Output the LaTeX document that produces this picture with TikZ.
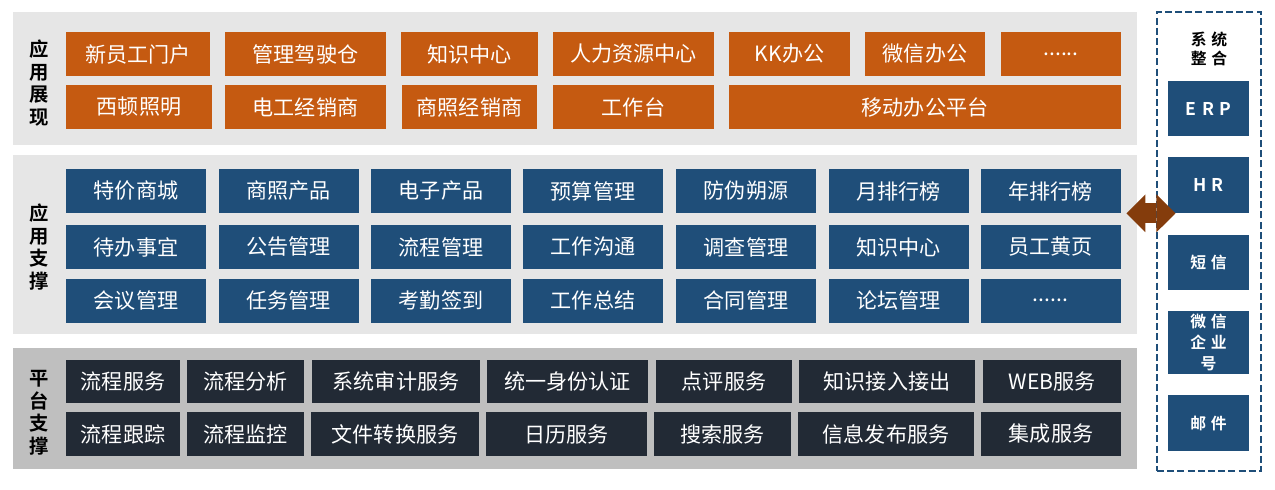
\documentclass[tikz,border=0pt]{standalone}
\usepackage{fontspec}
\setmainfont{Noto Sans CJK SC}[BoldFont={Noto Sans CJK SC Bold}]
\usepackage{xcolor}
\usetikzlibrary{positioning,arrows.meta,fit}
\definecolor{appor}{HTML}{C55A11}
\definecolor{appblue}{HTML}{1F4E79}
\definecolor{platdark}{HTML}{222A35}
\definecolor{panelbg}{HTML}{E6E6E6}
\definecolor{panelgr}{HTML}{BFBFBF}
\definecolor{linkbr}{HTML}{843C0C}

\begin{document}
\begin{tikzpicture}[x=0.02cm,y=-0.02cm,
  font=\fontsize{12}{14}\selectfont,
  wh/.style 2 args={minimum width=#1*0.02cm,minimum height=#2*0.02cm},
  panel/.style={fill=panelbg,inner sep=0pt},
  side/.style={font=\fontsize{11}{12.8}\selectfont\bfseries,align=center,inner sep=0pt},
  obox/.style={fill=appor,text=white,inner sep=0pt},
  bbox/.style={fill=appblue,text=white,inner sep=0pt,wh={140}{44}},
  dbox/.style={fill=platdark,text=white,inner sep=0pt},
  sbox/.style={fill=appblue,text=white,inner sep=0pt,align=center,
               font=\fontsize{9}{12.2}\selectfont\bfseries\addfontfeature{LetterSpace=30}},
  link/.style={{Triangle[width=21.5pt,length=10.8pt,line width=0pt]}-{Triangle[width=21.5pt,length=10.8pt,line width=0pt]},
               draw=linkbr,fill=linkbr,line width=11.3pt},
]
\useasboundingbox (0,0) rectangle (1275,490);

% three layers
\node[panel,fit={(13,12)(1137,145)}] (show) {};
\node[panel,fit={(13,155)(1137,334)}] (supp) {};
\node[panel,fill=panelgr,fit={(13,348)(1137,469)}] (plat) {};

\node[side] (showlbl) at (39,83) {应\\用\\展\\现};
\node[side] (supplbl) at (39,247) {应\\用\\支\\撑};
\node[side] (platlbl) at (39,413) {平\\台\\支\\撑};

% application display
\node[obox,wh={144}{44}] (s1) at (138,54) {新员工门户};
\node[obox,wh={161}{44}] (s2) at (305.5,54) {管理驾驶仓};
\node[obox,wh={137}{44}] (s3) at (469.5,54) {知识中心};
\node[obox,wh={161}{44}] (s4) at (633.5,54) {人力资源中心};
\node[obox,wh={121}{44}] (s5) at (789.5,54) {KK办公};
\node[obox,wh={120}{44}] (s6) at (925,54) {微信办公};
\node[obox,wh={120}{44}] (s7) at (1061,54) {......};
\node[obox,wh={146}{44}] (s8) at (139,107) {西顿照明};
\node[obox,wh={161}{44}] (s9) at (305.5,107) {电工经销商};
\node[obox,wh={135}{44}] (s10) at (469.5,107) {商照经销商};
\node[obox,wh={161}{44}] (s11) at (633.5,107) {工作台};
\node[obox,wh={392}{44}] (s12) at (925,107) {移动办公平台};

% application support
\node[bbox] (a1) at (136,191) {特价商城};
\node[bbox] (a2) at (288.5,191) {商照产品};
\node[bbox] (a3) at (441,191) {电子产品};
\node[bbox] (a4) at (593,191) {预算管理};
\node[bbox] (a5) at (746,191) {防伪朔源};
\node[bbox] (a6) at (898.5,191) {月排行榜};
\node[bbox] (a7) at (1050.5,191) {年排行榜};
\node[bbox] (b1) at (136,247) {待办事宜};
\node[bbox] (b2) at (288.5,247) {公告管理};
\node[bbox] (b3) at (441,247) {流程管理};
\node[bbox] (b4) at (593,247) {工作沟通};
\node[bbox] (b5) at (746,247) {调查管理};
\node[bbox] (b6) at (898.5,247) {知识中心};
\node[bbox] (b7) at (1050.5,247) {员工黄页};
\node[bbox] (c1) at (136,300.5) {会议管理};
\node[bbox] (c2) at (288.5,300.5) {任务管理};
\node[bbox] (c3) at (441,300.5) {考勤签到};
\node[bbox] (c4) at (593,300.5) {工作总结};
\node[bbox] (c5) at (746,300.5) {合同管理};
\node[bbox] (c6) at (898.5,300.5) {论坛管理};
\node[bbox] (c7) at (1050.5,300.5) {......};

% platform support
\node[dbox,wh={114}{43}] (p1) at (123,381.5) {流程服务};
\node[dbox,wh={117}{43}] (p2) at (245.5,381.5) {流程分析};
\node[dbox,wh={168}{43}] (p3) at (396,381.5) {系统审计服务};
\node[dbox,wh={161}{43}] (p4) at (567.5,381.5) {统一身份认证};
\node[dbox,wh={136}{43}] (p5) at (724,381.5) {点评服务};
\node[dbox,wh={176}{43}] (p6) at (887,381.5) {知识接入接出};
\node[dbox,wh={138}{43}] (p7) at (1052,381.5) {WEB服务};
\node[dbox,wh={114}{44}] (q1) at (123,434) {流程跟踪};
\node[dbox,wh={117}{44}] (q2) at (245.5,434) {流程监控};
\node[dbox,wh={168}{44}] (q3) at (395,434) {文件转换服务};
\node[dbox,wh={161}{44}] (q4) at (566.5,434) {日历服务};
\node[dbox,wh={137}{44}] (q5) at (722.5,434) {搜索服务};
\node[dbox,wh={176}{44}] (q6) at (886,434) {信息发布服务};
\node[dbox,wh={140}{44}] (q7) at (1051,434) {集成服务};

% system integration
\node[draw=appblue,line width=1.6pt,dash pattern=on 4pt off 1.8pt,inner sep=0pt,
      fit={(1157,12)(1261,471)}] (sys) {};
\node[font=\fontsize{9}{10.8}\selectfont\bfseries\addfontfeature{LetterSpace=30},align=center,inner sep=0pt]
   (syslbl) at (1209,48.5) {系统\\整合};
\node[sbox,wh={81}{55},font=\fontsize{10}{12}\selectfont\bfseries\addfontfeature{LetterSpace=30}] (erp) at (1208.5,108.5) {ERP};
\node[sbox,wh={81}{56},font=\fontsize{10}{12}\selectfont\bfseries\addfontfeature{LetterSpace=30}] (hr) at (1208.5,185) {HR};
\node[sbox,wh={81}{55}] (sms) at (1208.5,262.5) {短信};
\node[sbox,wh={81}{63}] (wxqy) at (1208.5,342.5) {微信\\企业\\号};
\node[sbox,wh={81}{56}] (mail) at (1208.5,423) {邮件};

\draw[link,shorten <=-6.2pt,shorten >=-11.3pt] (supp.east |- hr.south) -- (sys.west |- hr.south);
\end{tikzpicture}
\end{document}
